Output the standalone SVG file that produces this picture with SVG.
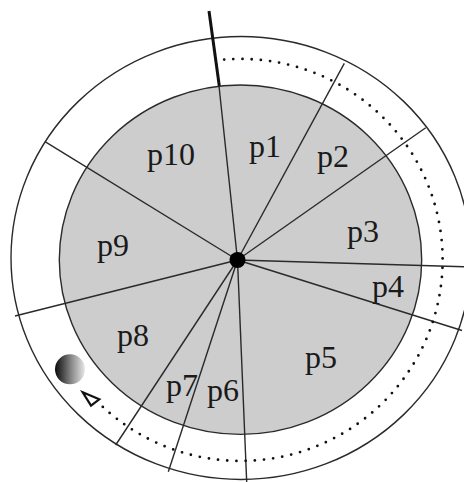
<svg xmlns="http://www.w3.org/2000/svg" width="464" height="482" viewBox="0 0 464 482">
<style>
.ring{fill:none;stroke:#2a2a2a;stroke-width:1.4}
.ln{stroke:#2a2a2a;stroke-width:1.4;fill:none}
.lbl{font-family:"Liberation Serif","Times New Roman",serif;font-size:32px;fill:#1a1a1a}
</style>
<defs>
<linearGradient id="ballg" x1="0" y1="0" x2="1" y2="0">
<stop offset="0" stop-color="#0a0a0a"/>
<stop offset="0.55" stop-color="#8a8a8a"/>
<stop offset="1" stop-color="#e8e8e8"/>
</linearGradient>
</defs>
<rect width="464" height="482" fill="#ffffff"/>
<g id="outer-ring">
<ellipse class="ring" cx="241" cy="258" rx="230" ry="221.5" fill="#ffffff"/>
</g>
<g id="platter">
<ellipse cx="240.5" cy="259.7" rx="181.2" ry="174.7" fill="#cdcdcd" stroke="#2a2a2a" stroke-width="1.4"/>
</g>
<g id="connectors">
<line class="ln" x1="237.5" y1="260" x2="219" y2="86"/>
<line x1="209" y1="11" x2="219.3" y2="86" stroke="#111" stroke-width="3"/>
<line class="ln" x1="237.5" y1="260" x2="344.3" y2="63.3"/>
<line class="ln" x1="237.5" y1="260" x2="425.7" y2="127.7"/>
<line class="ln" x1="237.5" y1="260" x2="464" y2="266.7"/>
<line class="ln" x1="237.5" y1="260" x2="462" y2="330.5"/>
<line class="ln" x1="237.5" y1="260" x2="246.7" y2="482"/>
<line class="ln" x1="237.5" y1="260" x2="168.3" y2="471.7"/>
<line class="ln" x1="237.5" y1="260" x2="115.7" y2="445"/>
<line class="ln" x1="237.5" y1="260" x2="15" y2="316"/>
<line class="ln" x1="237.5" y1="260" x2="45" y2="141.7"/>
<path d="M224.2,59.6 A202,201 0 1 1 100.9,405.1" fill="none" stroke="#111" stroke-width="2.8" stroke-linecap="round" stroke-dasharray="0 9.2"/>
<polygon points="82.7,392.3 99.3,399.3 91,405.7" fill="#ffffff" stroke="#111" stroke-width="2.2" stroke-linejoin="miter"/>
</g>
<g id="hub">
<circle cx="237.5" cy="260" r="8" fill="#000"/>
</g>
<g id="ball">
<circle cx="70" cy="369.3" r="15" fill="url(#ballg)"/>
</g>
<g id="p1"><text class="lbl" x="249" y="157">p1</text></g>
<g id="p2"><text class="lbl" x="317" y="167">p2</text></g>
<g id="p3"><text class="lbl" x="347" y="242">p3</text></g>
<g id="p4"><text class="lbl" x="372" y="297">p4</text></g>
<g id="p5"><text class="lbl" x="305" y="368">p5</text></g>
<g id="p6"><text class="lbl" x="207" y="401">p6</text></g>
<g id="p7"><text class="lbl" x="166" y="396">p7</text></g>
<g id="p8"><text class="lbl" x="117" y="346">p8</text></g>
<g id="p9"><text class="lbl" x="97" y="256">p9</text></g>
<g id="p10"><text class="lbl" x="147" y="165">p10</text></g>
</svg>
